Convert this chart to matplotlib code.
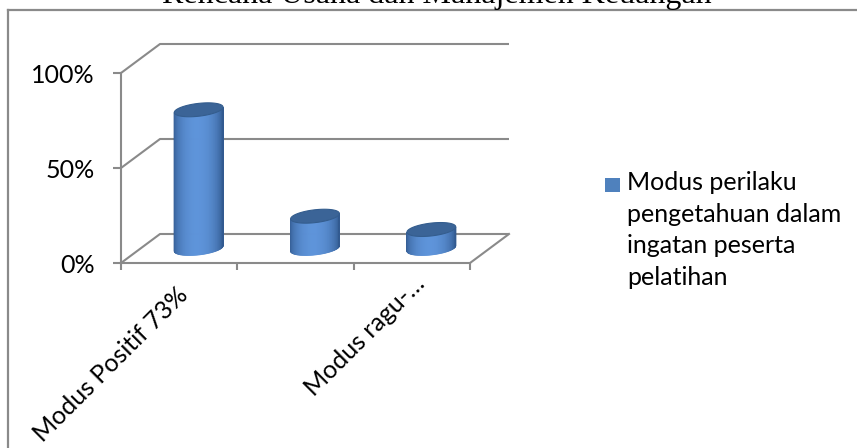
import numpy as np
import matplotlib
matplotlib.use("Agg")
import matplotlib.pyplot as plt
from matplotlib.patches import Polygon, Rectangle
from matplotlib.lines import Line2D
from matplotlib.colors import to_rgb
from matplotlib.ticker import PercentFormatter

# ---------------- data ----------------
title = "Rencana Usaha dan Manajemen Keuangan"
categories = ["Modus Positif 73%", "Modus Negatif 17%", "Modus ragu-ragu 10%"]
tick_labels = ["Modus Positif 73%", "", "Modus ragu-…"]
values = [0.73, 0.17, 0.10]
series_name = "Modus perilaku\npengetahuan dalam\ningatan peserta\npelatihan"
y_ticks = [0.0, 0.5, 1.0]

# ---------------- layout ----------------
W, H = 857, 448
fig = plt.figure(figsize=(W / 100, H / 100), dpi=100)
fig.patch.set_facecolor("white")
FONT = "Lato"
GRID = "#8a8a8a"
FS = 18

x0px, x3px = 121, 470
y0px, y1px = 263, 73
ncat = len(categories)
ux = (x3px - x0px) / ncat
uy = (y0px - y1px) / 1.0
DX = 39 / ux
DY = 29 / uy
xlim = (0, ncat + DX + 0.05)
ylim = (0, 1 + DY + 0.02)
ax = fig.add_axes([x0px / W, (H - y0px) / H,
                   (xlim[1] - xlim[0]) * ux / W, (ylim[1] - ylim[0]) * uy / H])
ax.set_xlim(xlim)
ax.set_ylim(ylim)
ax.patch.set_alpha(0)

for s in ["top", "right"]:
    ax.spines[s].set_visible(False)
ax.spines["left"].set_bounds(0, 1)
ax.spines["bottom"].set_bounds(0, ncat)
for s in ["left", "bottom"]:
    ax.spines[s].set_color(GRID)
    ax.spines[s].set_linewidth(1.5)

ax.set_yticks(y_ticks)
ax.yaxis.set_major_formatter(PercentFormatter(1.0, decimals=0))
ax.tick_params(axis="y", length=6, width=1.5, color=GRID, pad=13,
               labelsize=FS, labelcolor="black")
for lab in ax.get_yticklabels():
    lab.set_family(FONT)
ax.set_xticks(np.arange(ncat + 1))
ax.set_xticklabels([])
ax.tick_params(axis="x", length=5, width=1.5, color=GRID)

# back wall gridlines and side diagonals
for yt in y_ticks:
    ax.plot([0, DX, ncat + DX], [yt, yt + DY, yt + DY], color=GRID, lw=1.5,
            zorder=1, clip_on=False, solid_capstyle="butt")
# floor right edge
ax.plot([ncat, ncat + DX], [0, DY], color=GRID, lw=1.5, zorder=1, clip_on=False)

# ---------------- cylinders ----------------
rx = 22.5 / ux
rz = 0.24
phi = np.arctan2(rz * DX, rx)
c_dark = np.array(to_rgb("#325a90"))
c_light = np.array(to_rgb("#5e94da"))
c_top = "#3b6497"
light_dir = 1.5 * np.pi + 0.35


def proj(x, y, z):
    return x + z * DX, y + z * DY


for i, v in enumerate(values):
    cx = i + 0.5
    th = np.linspace(np.pi + phi, 2 * np.pi + phi, 80)
    for k in range(len(th) - 1):
        ta, tb = th[k], th[k + 1]
        pts = []
        for t, yy in [(ta, 0), (tb, 0), (tb, v), (ta, v)]:
            pts.append(proj(cx + rx * np.cos(t), yy, 0.5 + rz * np.sin(t)))
        tm = 0.5 * (ta + tb)
        b = np.cos(tm - light_dir)
        b = np.clip(b, 0, 1) ** 1.3
        col = c_dark + (c_light - c_dark) * b
        ax.add_patch(Polygon(pts, closed=True, facecolor=col, edgecolor=col,
                             lw=0.6, zorder=3))
    tt = np.linspace(0, 2 * np.pi, 120)
    top = [proj(cx + rx * np.cos(t), v, 0.5 + rz * np.sin(t)) for t in tt]
    ax.add_patch(Polygon(top, closed=True, facecolor=c_top, edgecolor="#345d8e",
                         lw=0.8, zorder=4))

# category labels
label_offsets = [(10, -33), None, (14, -22)]
for i, lab in enumerate(tick_labels):
    if not lab:
        continue
    ax.annotate(lab, xy=(i + 0.5, 0), xytext=label_offsets[i],
                textcoords="offset pixels", rotation=45, ha="right",
                va="baseline", rotation_mode="anchor", fontsize=FS,
                family=FONT, annotation_clip=False)

# ---------------- frame, title, legend ----------------
fig.add_artist(Line2D([8 / W, 1], [1 - 10 / H, 1 - 10 / H], color=GRID, lw=1.6,
                      transform=fig.transFigure))
fig.add_artist(Line2D([8 / W, 8 / W], [0, 1 - 10 / H], color=GRID, lw=1.6,
                      transform=fig.transFigure))
fig.text(437 / W, 1 - 3 / H, title, ha="center", va="baseline",
         family="Liberation Serif", fontsize=23)

fig.add_artist(Rectangle((605 / W, 1 - 192 / H), 15 / W, 14 / H,
                         transform=fig.transFigure, facecolor="#4f81bd",
                         edgecolor="none"))
fig.text(627 / W, 1 - 171 / H, series_name, ha="left", va="top",
         family=FONT, fontsize=FS, linespacing=1.45)

fig.savefig("out.png", dpi=100)
